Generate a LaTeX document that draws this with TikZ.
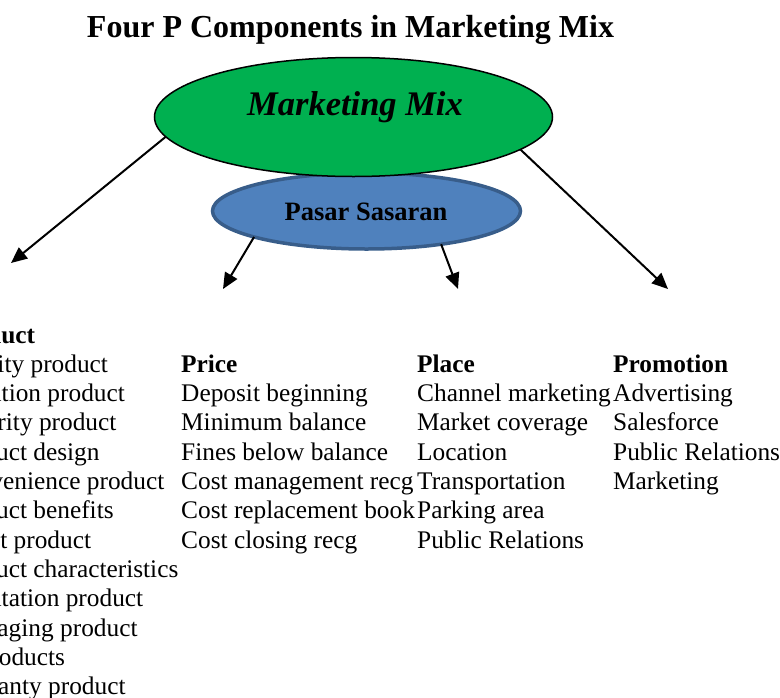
\documentclass[tikz,border=0pt]{standalone}
\usepackage{fontspec}
\setmainfont{Liberation Serif}
\usetikzlibrary{shapes.geometric,arrows.meta}
\definecolor{mixgreen}{RGB}{0,176,80}
\definecolor{targetblue}{RGB}{79,129,189}
\definecolor{targetedge}{RGB}{56,93,138}
\tikzset{
  bubble/.style={ellipse,inner sep=0pt,outer sep=0pt},
  link/.style={line width=2pt,-{Triangle[length=16pt,width=14pt]}},
  entry/.style={anchor=base west,inner sep=0pt,font=\fontsize{25.35}{29.3}\selectfont},
  heading/.style={entry,font=\fontsize{25.35}{29.3}\selectfont\bfseries},
}
\begin{document}
\begin{tikzpicture}[x=1pt,y=-1pt]
\useasboundingbox (0,0) rectangle (780,697);
\clip (0,0) rectangle (780,697);

% title
\node[anchor=base,inner sep=0pt,font=\fontsize{32}{38}\selectfont\bfseries] (title) at (350.5,37)
  {Four P Components in Marketing Mix};

% target market sits behind the marketing mix
\node[bubble,minimum width=308pt,minimum height=76pt,fill=targetblue,draw=targetedge,line width=3.5pt]
  (target) at (366.5,211) {};
\node[anchor=base,inner sep=0pt,font=\fontsize{26.5}{30}\selectfont\bfseries] (targettext) at (366,220) {Pasar Sasaran};

\node[bubble,minimum width=398pt,minimum height=119pt,fill=mixgreen,draw=black,line width=1.5pt]
  (mix) at (353.5,117) {};
\node[anchor=base,inner sep=0pt,font=\fontsize{34.5}{40}\selectfont\bfseries\itshape] (mixtext) at (355,115) {Marketing Mix};

% arrow ends
\coordinate (toproduct) at (11,263);
\coordinate (topromotion) at (668,289);
\coordinate (toprice) at (223,289);
\coordinate (toplace) at (458,289);

\draw[link] (mix.186.1) -- (toproduct);
\draw[link] (mix.349.6) -- (topromotion);
\draw[link] (target.193.5) -- (toprice);
\draw[link] (target.336.4) -- (toplace);

% product column
\node[heading] (prod0) at (-52,343) {Product};
\foreach \t [count=\i] in {Quality product,Variation product,Security product,Product design,
  Convenience product,Product benefits,Event product,Product characteristics,Reputation product,
  Packaging product,Byproducts,Warranty product}
  \node[entry] (prod\i) at (-52,{343+29.3*\i}) {\t};

% price column
\node[heading] (price0) at (181,372.3) {Price};
\foreach \t [count=\i] in {Deposit beginning,Minimum balance,Fines below balance,
  Cost management recg,Cost replacement book,Cost closing recg}
  \node[entry] (price\i) at (181,{372.3+29.3*\i}) {\t};

% place column
\node[heading] (place0) at (417,372.3) {Place};
\foreach \t [count=\i] in {Channel marketing,Market coverage,Location,
  Transportation,Parking area,Public Relations}
  \node[entry] (place\i) at (417,{372.3+29.3*\i}) {\t};

% promotion column
\node[heading] (promo0) at (613,372.3) {Promotion};
\foreach \t [count=\i] in {Advertising,Salesforce,Public Relations,Marketing}
  \node[entry] (promo\i) at (613,{372.3+29.3*\i}) {\t};
\end{tikzpicture}
\end{document}
